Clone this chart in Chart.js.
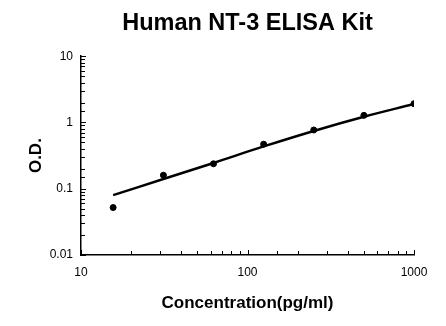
<!DOCTYPE html>
<html>
<head>
<meta charset="utf-8">
<script src="https://cdn.jsdelivr.net/npm/chart.js@4/dist/chart.umd.min.js"></script>
<style>
  html, body { margin: 0; padding: 0; background: #fff; }
  canvas { display: block; }
</style>
</head>
<body>
<canvas id="elisaChart" width="446" height="326"></canvas>
<script>
// standard concentrations (pg/ml) and measured O.D.
const concentrations = [15.6, 31.25, 62.5, 125, 250, 500, 1000];
const odValues = [0.052, 0.16, 0.238, 0.47, 0.77, 1.28, 1.92];
// fitted standard curve
const fitValues = [0.08, 0.14, 0.245, 0.435, 0.745, 1.22, 1.9];
const xTickLabels = ['10', '100', '1000'];
const yTickLabels = ['0.01', '0.1', '1', '10'];

const FONT = 'Arial, "Liberation Sans", sans-serif';

function isDecade(v) {
    const l = Math.log10(v);
    return Math.abs(l - Math.round(l)) < 1e-6;
}

function labelFor(list) {
    return function (value) {
        if (!isDecade(value)) return '';
        const s = String(+value.toPrecision(6));
        return list.includes(s) ? s : '';
    };
}

// tick marks drawn inside the plot, like the original
const innerTicks = {
    id: 'innerTicks',
    afterDraw(chart) {
        const { ctx, chartArea, scales: { x, y } } = chart;
        ctx.save();
        ctx.strokeStyle = '#000';
        ctx.lineWidth = 1;
        x.ticks.forEach(t => {
            const px = Math.round(x.getPixelForValue(t.value)) + 0.5;
            const len = isDecade(t.value) ? 5 : 4;
            ctx.beginPath();
            ctx.moveTo(px, chartArea.bottom);
            ctx.lineTo(px, chartArea.bottom - len);
            ctx.stroke();
        });
        y.ticks.forEach(t => {
            const py = Math.round(y.getPixelForValue(t.value)) + 0.5;
            const len = isDecade(t.value) ? 5 : 4;
            ctx.beginPath();
            ctx.moveTo(chartArea.left, py);
            ctx.lineTo(chartArea.left + len, py);
            ctx.stroke();
        });
        ctx.restore();
    }
};

const ctx = document.getElementById('elisaChart').getContext('2d');

new Chart(ctx, {
    data: {
        datasets: [
            {
                type: 'line',
                data: concentrations.map((c, i) => ({ x: c, y: fitValues[i] })),
                borderColor: '#000',
                borderWidth: 2.5,
                pointRadius: 0,
                tension: 0.4,
                fill: false,
                order: 2,
            },
            {
                type: 'scatter',
                data: concentrations.map((c, i) => ({ x: c, y: odValues[i] })),
                backgroundColor: '#000',
                borderColor: '#000',
                pointRadius: 3,
                order: 1,
            }
        ],
    },
    options: {
        responsive: false,
        animation: false,
        layout: {
            padding: { left: 0, right: 32, top: 0, bottom: 0 },
        },
        plugins: {
            legend: { display: false },
            tooltip: { enabled: false },
            title: {
                display: true,
                text: 'Human NT-3 ELISA Kit',
                fullSize: false,
                color: '#000',
                font: { family: FONT, size: 23.5, weight: 'bold' },
                padding: { top: 9, bottom: 19 },
            },
        },
        scales: {
            x: {
                type: 'logarithmic',
                min: 10,
                max: 1000,
                afterFit: s => { s.height = 71; },
                grid: { display: false, drawTicks: false },
                border: { display: true, color: '#000', width: 1.5 },
                ticks: {
                    autoSkip: false,
                    maxRotation: 0,
                    padding: 10,
                    color: '#000',
                    font: { family: FONT, size: 12 },
                    callback: labelFor(xTickLabels),
                },
                title: {
                    display: true,
                    text: 'Concentration(pg/ml)',
                    color: '#000',
                    font: { family: FONT, size: 17, weight: 'bold' },
                    padding: { top: 4, bottom: 12 },
                },
            },
            y: {
                type: 'logarithmic',
                min: 0.01,
                max: 10,
                afterFit: s => { s.width = 81; },
                grid: { display: false, drawTicks: false },
                border: { display: true, color: '#000', width: 1.5 },
                ticks: {
                    autoSkip: false,
                    padding: 8,
                    color: '#000',
                    font: { family: FONT, size: 12 },
                    callback: labelFor(yTickLabels),
                },
                title: {
                    display: true,
                    text: 'O.D.',
                    color: '#000',
                    font: { family: FONT, size: 17, weight: 'bold' },
                    padding: { top: 26, bottom: 4 },
                },
            },
        },
    },
    plugins: [innerTicks],
});
</script>
</body>
</html>
